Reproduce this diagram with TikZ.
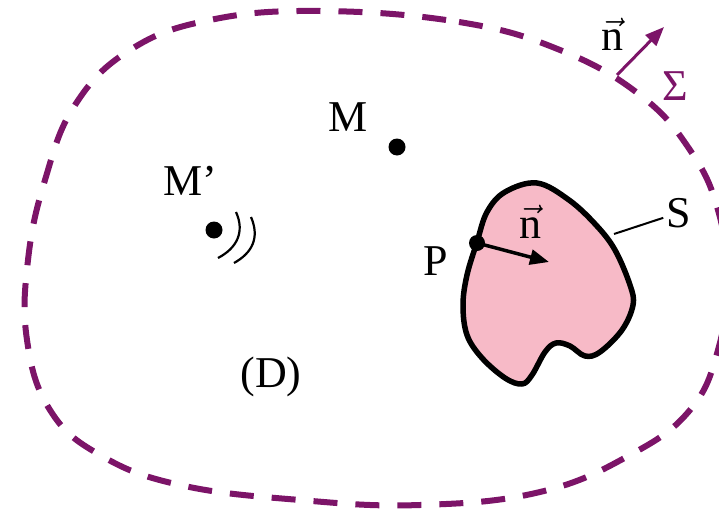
\RequirePackage{fix-cm}
\documentclass[tikz,border=0pt]{standalone}
\usepackage{fontspec}
\setmainfont{Liberation Serif}
\usetikzlibrary{arrows.meta}
\definecolor{sigmapurple}{RGB}{124,20,104}
\definecolor{bodypink}{RGB}{247,186,199}
\newcommand{\vecn}{$\vec{\hbox{n}}$}

\begin{document}
\begin{tikzpicture}[x=1pt, y=-1pt, every node/.style={font=\fontsize{44}{50}\selectfont}]
  \tikzstyle{ptdot}=[circle,fill=black,inner sep=0pt,minimum size=17pt]
  \tikzstyle{lbl}=[anchor=base]
  \tikzstyle{normal}=[line width=3.5pt,-{Triangle[length=19pt,width=15pt]}]
  \useasboundingbox (0,0) rectangle (719,511);
  \clip (0,0) rectangle (719,511);
  % closed surface Sigma
  \draw[sigmapurple,line width=6pt,dash pattern=on 24pt off 18pt]
    plot[smooth cycle,tension=0.7] coordinates {(320,11) (459,22) (560,50) (640,95) (690,150) (718,210)
      (727,280) (718,350) (690,410) (630,455) (540,492) (420,505) (300,500) (180,485) (100,455)
      (50,410) (27,340) (28,260) (45,180) (75,105) (130,50) (210,20)};
  % obstacle S
  \draw[fill=bodypink,line width=5.5pt,line join=round]
    plot[smooth cycle,tension=0.6] coordinates {(477,242) (487,212) (505,192) (537,183) (569,200)
      (596,225) (615,250) (630,285) (633,305) (622,330) (600,352) (585,356) (570,346) (556,343)
      (545,352) (532,375) (522,384) (505,378) (482,358) (467,335) (463,305) (467,275)};
  % points
  \node[ptdot] (dotM) at (397,147) {};
  \node[ptdot] (dotMp) at (214,230) {};
  \node[ptdot,minimum size=16pt] (dotP) at (477,243) {};
  \node[lbl] (lblM) at (348,131) {M};
  \node[lbl] (lblMp) at (190,195) {M’};
  \node[lbl] (lblP) at (436,275) {P};
  \node[lbl] (lblD) at (271,387) {(D)};
  \node[lbl] (lblS) at (679,227) {S};
  \node[lbl,sigmapurple] (lblSigma) at (675,100) {Σ};
  \node[lbl] (lblnSigma) at (612,51) {\vecn};
  \node[lbl] (lblnP) at (530,238) {\vecn};
  % source waves at M'
  \draw[line width=2.2pt] (236,212) .. controls (245,232) and (237,248) .. (218,258);
  \draw[line width=2.2pt] (251,217) .. controls (260,238) and (252,253) .. (234,263);
  % normals
  \coordinate (nTip) at (549,262);
  \draw[normal] (dotP.center) -- (nTip);
  \coordinate (sigFoot) at (617,75);
  \coordinate (sigTip) at (664,27);
  \draw[normal,sigmapurple,line width=3pt] (sigFoot) -- (sigTip);
  % leader to S
  \coordinate (sFoot) at (614,234);
  \draw[line width=2pt] (sFoot) -- (lblS);
\end{tikzpicture}
\end{document}
